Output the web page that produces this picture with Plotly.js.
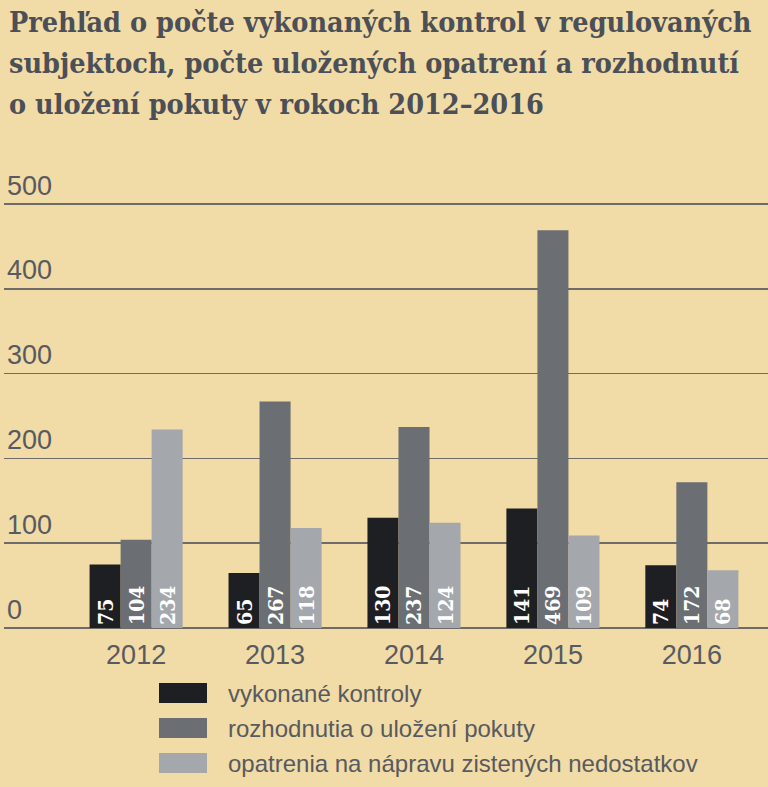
<!DOCTYPE html>
<html>
<head>
<meta charset="utf-8">
<script src="https://cdn.plot.ly/plotly-3.0.1.min.js"></script>
</head>
<body style="margin:0">
<div id="chart" style="width:768px;height:787px"></div>
<script>
const years = ['2012','2013','2014','2015','2016'];
const seriesNames = ['vykonané kontroly','rozhodnutia o uložení pokuty','opatrenia na nápravu zistených nedostatkov'];
const kontroly = [75, 65, 130, 141, 74];
const pokuty = [104, 267, 237, 469, 172];
const opatrenia = [234, 118, 124, 109, 68];
const yTicks = [0, 100, 200, 300, 400, 500];
const titleLines = ['Prehľad o počte vykonaných kontrol v regulovaných','subjektoch, počte uložených opatrení a rozhodnutí','o uložení pokuty v rokoch 2012–2016'];

const colors = ['#1e1f23', '#6b6e73', '#a4a7ab'];
const seriesValues = [kontroly, pokuty, opatrenia];

const traces = seriesValues.map((vals, i) => ({
  type: 'bar',
  x: years,
  y: vals,
  name: seriesNames[i],
  marker: {color: colors[i]},
  text: vals.map(v => '<b>' + v + '</b>'),
  textposition: 'inside',
  insidetextanchor: 'start',
  textangle: -90,
  textfont: {family: 'DejaVu Serif Condensed, DejaVu Serif, serif', size: 21, color: '#ffffff'},
  hoverinfo: 'skip',
  showlegend: false
}));

const L = 4, R = 768, T = 170, B = 628;
const pxPerUnit = 0.848;
const px = v => (v - L) / (R - L);
const py = v => (B - v) / (B - T);

const shapes = [];
const annotations = [];

const legendTop = [683, 718, 753];
seriesNames.forEach((nm, i) => {
  shapes.push({type: 'rect', xref: 'paper', yref: 'paper',
    x0: px(159), x1: px(207), y0: py(legendTop[i] + 20), y1: py(legendTop[i]),
    fillcolor: colors[i], line: {width: 0}});
  annotations.push({xref: 'paper', yref: 'paper', x: px(226), y: py(legendTop[i] + 10),
    xanchor: 'left', yanchor: 'middle', showarrow: false, text: nm,
    font: {family: 'Liberation Sans Narrow, Arial Narrow, sans-serif', size: 24, color: '#575a60'}});
});

const titleTop = [3, 44, 85];
titleLines.forEach((t, i) => {
  annotations.push({xref: 'paper', yref: 'paper', x: px(7), y: py(titleTop[i]),
    xanchor: 'left', yanchor: 'top', showarrow: false, text: '<b>' + t + '</b>',
    font: {family: 'DejaVu Serif Condensed, DejaVu Serif, serif', size: 28.5, color: '#4b4f57'}});
});

const layout = {
  width: 768, height: 787,
  margin: {l: L, r: 768 - R, t: T, b: 787 - B, pad: 0},
  paper_bgcolor: '#f1dba6',
  plot_bgcolor: '#f1dba6',
  barmode: 'group',
  bargap: 0.33,
  bargroupgap: 0,
  showlegend: false,
  xaxis: {
    type: 'category',
    range: [-0.951, 4.548],
    showgrid: false, zeroline: false, showline: false,
    ticks: '',
    tickfont: {family: 'Liberation Sans Narrow, Arial Narrow, sans-serif', size: 27, color: '#575a60'},
    ticklabelstandoff: 8,
    fixedrange: true
  },
  yaxis: {
    range: [0, (B - T) / pxPerUnit],
    tickvals: yTicks,
    ticktext: yTicks.map(String),
    ticklabelposition: 'inside top',
    showgrid: true, gridcolor: '#6d6c68', gridwidth: 1.6,
    zeroline: true, zerolinecolor: '#6d6c68', zerolinewidth: 1.6,
    showline: false, ticks: '',
    tickfont: {family: 'Liberation Sans Narrow, Arial Narrow, sans-serif', size: 27, color: '#575a60'},
    fixedrange: true
  },
  shapes: shapes,
  annotations: annotations
};

Plotly.newPlot('chart', traces, layout, {displayModeBar: false, staticPlot: true});
</script>
</body>
</html>
